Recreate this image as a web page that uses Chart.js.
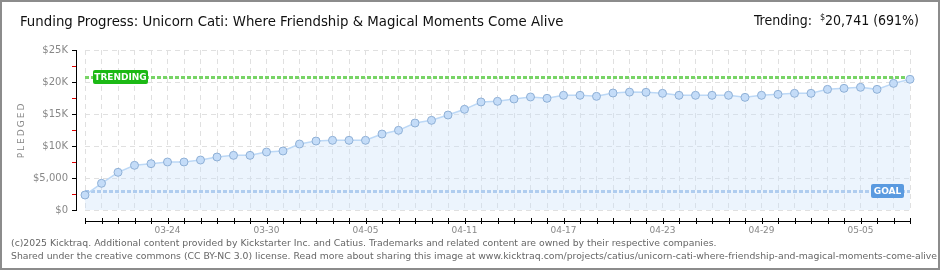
<!DOCTYPE html>
<html>
<head>
<meta charset="utf-8">
<script src="https://cdn.jsdelivr.net/npm/chart.js@4.4.1/dist/chart.umd.min.js"></script>
<style>
  html, body { margin: 0; padding: 0; background: #fff; }
  #wrap { position: relative; width: 940px; height: 270px; overflow: hidden; }
  #chart { position: absolute; left: 0; top: 0; }
  #frame { position: absolute; left: 0; top: 0; width: 940px; height: 270px; box-sizing: border-box; border: 2px solid #8c8c8c; pointer-events: none; }
  .txt { position: absolute; white-space: nowrap; }
  #title { left: 20px; top: 12px; font: 14.8px "DejaVu Sans Condensed", "Liberation Sans Narrow", sans-serif; color: #111; }
  #trend { right: 21px; top: 12px; font: 14px "DejaVu Sans Condensed", "Liberation Sans Narrow", sans-serif; color: #111; }
  #trend sup { font-size: 9px; vertical-align: 5px; }
  .foot { left: 11px; font: 9.3px "DejaVu Sans", sans-serif; color: #666; }
</style>
</head>
<body>
<div id="wrap">
  <canvas id="chart" width="940" height="270"></canvas>
  <div class="txt" id="title">Funding Progress: Unicorn Cati: Where Friendship &amp; Magical Moments Come Alive</div>
  <div class="txt" id="trend">Trending:&nbsp; <sup>$</sup>20,741 (691%)</div>
  <div class="txt foot" style="top:237px">(c)2025 Kicktraq. Additional content provided by Kickstarter Inc. and Catius. Trademarks and related content are owned by their respective companies.</div>
  <div class="txt foot" style="top:250px">Shared under the creative commons (CC BY-NC 3.0) license. Read more about sharing this image at www.kicktraq.com/projects/catius/unicorn-cati-where-friendship-and-magical-moments-come-alive</div>
  <div id="frame"></div>
</div>
<script>
// =============== Data
const dates = [
  '03-19', '03-20', '03-21', '03-22', '03-23', '03-24', '03-25', '03-26', '03-27', '03-28',
  '03-29', '03-30', '03-31', '04-01', '04-02', '04-03', '04-04', '04-05', '04-06', '04-07',
  '04-08', '04-09', '04-10', '04-11', '04-12', '04-13', '04-14', '04-15', '04-16', '04-17',
  '04-18', '04-19', '04-20', '04-21', '04-22', '04-23', '04-24', '04-25', '04-26', '04-27',
  '04-28', '04-29', '04-30', '05-01', '05-02', '05-03', '05-04', '05-05', '05-06', '05-07',
  '05-08'
];
const pledged = [
  2340, 4170, 5890, 6980, 7240, 7500, 7500, 7810, 8280, 8540,
  8540, 9060, 9220, 10310, 10780, 10890, 10890, 10890, 11870, 12450,
  13590, 14010, 14840, 15730, 16880, 16980, 17340, 17660, 17450, 17920,
  17920, 17760, 18280, 18420, 18390, 18230, 17920, 17920, 17920, 17920,
  17600, 17920, 18070, 18230, 18230, 18850, 19010, 19170, 18850, 19790,
  20420
];
const xTickLabels = ['03-24', '03-30', '04-05', '04-11', '04-17', '04-23', '04-29', '05-05'];
const goal = 3000;
const trending = 20741;

const yLabel = v => v === 0 ? '$0' : v === 5000 ? '$5,000' : '$' + (v / 1000) + 'K';

// =============== Extras : axes décalés, lignes objectif / tendance
const extras = {
    id: 'extras',
    beforeDatasetsDraw(chart) {
        const { ctx, chartArea: a, scales: { y } } = chart;
        ctx.save();
        ctx.lineWidth = 3;
        ctx.setLineDash([4, 2]);
        [[goal, '#a3c3ea'], [trending, '#78d466']].forEach(([v, c]) => {
            const py = Math.round(y.getPixelForValue(v)) + 0.5;
            ctx.strokeStyle = c;
            ctx.beginPath();
            ctx.moveTo(a.left, py);
            ctx.lineTo(a.right, py);
            ctx.stroke();
        });
        ctx.restore();
    },
    afterDatasetsDraw(chart) {
        const { ctx, chartArea: a, scales: { x, y } } = chart;
        ctx.save();
        ctx.setLineDash([]);
        // boîtes
        const box = (text, bx, v, w, col) => {
            const py = Math.round(y.getPixelForValue(v));
            ctx.fillStyle = col;
            ctx.beginPath();
            ctx.roundRect(bx, py - 7, w, 14, 2);
            ctx.fill();
            ctx.fillStyle = '#fff';
            ctx.font = 'bold 9px "DejaVu Sans"';
            ctx.textAlign = 'center';
            ctx.textBaseline = 'middle';
            ctx.fillText(text, bx + w / 2, py + 0.5);
        };
        box('TRENDING', a.left + 8, trending, 55, '#1cb915');
        box('GOAL', a.right - 39, goal, 33, '#5a9ae0');

        // axe Y
        ctx.fillStyle = '#000';
        ctx.fillRect(76, Math.round(y.getPixelForValue(25000)), 1, 161);
        for (let v = 0; v <= 25000; v += 2500) {
            const py = Math.round(y.getPixelForValue(v));
            ctx.fillStyle = v % 5000 === 0 ? '#000' : '#e00000';
            ctx.fillRect(72, py, 4, 1);
        }
        // axe X
        ctx.fillStyle = '#000';
        const x0 = Math.round(x.getPixelForValue(0));
        const x1 = Math.round(x.getPixelForValue(dates.length - 1));
        ctx.fillRect(x0, 221, x1 - x0 + 1, 1);
        dates.forEach((d, i) => {
            ctx.fillRect(Math.round(x.getPixelForValue(i)), 218, 1, 6);
        });

        // titre axe Y
        ctx.translate(22, (a.top + a.bottom) / 2);
        ctx.rotate(-Math.PI / 2);
        ctx.fillStyle = '#888';
        ctx.font = '9px "DejaVu Sans"';
        ctx.letterSpacing = '2px';
        ctx.textAlign = 'center';
        ctx.textBaseline = 'middle';
        ctx.fillText('PLEDGED', 0, 0);
        ctx.restore();
    }
};

// =============== Courbe
const ctx = document.getElementById('chart');

new Chart(ctx, {
    type: 'line',
    data: {
        labels: dates,
        datasets: [{
            data: pledged,
            borderColor: '#bcd8f6',
            borderWidth: 1.5,
            backgroundColor: 'rgba(200, 224, 250, 0.35)',
            fill: 'origin',
            tension: 0,
            pointRadius: 4,
            pointBackgroundColor: '#c4dcf8',
            pointBorderColor: '#8fb0d6',
            pointBorderWidth: 1
        }]
    },
    options: {
        responsive: false,
        animation: false,
        layout: { padding: { top: 50, right: 30, bottom: 30, left: 0 } },
        plugins: { legend: { display: false }, tooltip: { enabled: false } },
        scales: {
            x: {
                offset: false,
                grid: { color: '#e0e0e0', drawTicks: false },
                border: { display: false, dash: [5, 4] },
                ticks: {
                    autoSkip: false,
                    maxRotation: 0,
                    padding: 15,
                    color: '#888',
                    font: { family: 'DejaVu Sans', size: 9 },
                    callback(v) {
                        const l = this.getLabelForValue(v);
                        return xTickLabels.includes(l) ? l : '';
                    }
                },
                afterFit(s) { s.height = 30; }
            },
            y: {
                min: 0,
                max: 25000,
                grid: { color: '#e0e0e0', drawTicks: false },
                border: { display: false, dash: [5, 4] },
                ticks: {
                    stepSize: 5000,
                    padding: 17,
                    color: '#888',
                    font: { family: 'DejaVu Sans', size: 10 },
                    callback: v => yLabel(v)
                },
                afterFit(s) { s.width = 85; }
            }
        }
    },
    plugins: [extras]
});
</script>
</body>
</html>
